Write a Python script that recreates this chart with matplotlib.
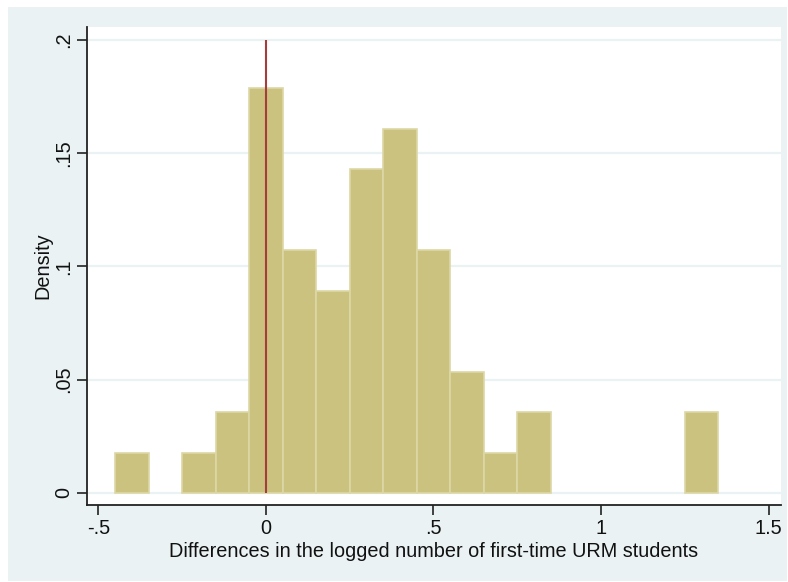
import matplotlib
matplotlib.use("Agg")
import matplotlib.pyplot as plt
from matplotlib.patches import Rectangle

plt.rcParams['font.family'] = ['Liberation Sans', 'DejaVu Sans']

# histogram bins (width .1) and number of observations in each
bin_left = [-0.45, -0.35, -0.25, -0.15, -0.05, 0.05, 0.15, 0.25, 0.35,
            0.45, 0.55, 0.65, 0.75, 0.85, 0.95, 1.05, 1.15, 1.25]
counts = [1, 0, 1, 2, 10, 6, 5, 8, 9, 6, 3, 1, 2, 0, 0, 0, 0, 2]
n_obs = sum(counts)
density = [c / n_obs for c in counts]

xticks = [-0.5, 0, 0.5, 1, 1.5]
xtick_labels = ['-.5', '0', '.5', '1', '1.5']
yticks = [0, 0.05, 0.1, 0.15, 0.2]
ytick_labels = ['0', '.05', '.1', '.15', '.2']

bg = '#EAF2F3'
bar_col = '#CAC27E'
W, H = 788, 582

fig = plt.figure(figsize=(W / 100, H / 100), dpi=100)
fig.patch.set_facecolor('white')
fig.patches.append(Rectangle((8 / W, 1 - 581 / H), 779 / W, 574 / H,
                             transform=fig.transFigure, facecolor=bg,
                             edgecolor='none', zorder=-1))

# white plot region
ax = fig.add_axes([87 / W, 1 - 505 / H, 694 / W, 478 / H])
ax.set_zorder(2)
ax.set_facecolor('white')

# empty bins get no outline
edges = ['#DDD7A6' if c > 0 else 'none' for c in counts]
ax.bar(bin_left, density, width=0.1, align='edge', color=bar_col,
       edgecolor=edges, linewidth=1.2, zorder=2)
ax.vlines(0, 0, 0.2, color='#A53D3F', linewidth=1.5, zorder=3)

for y in yticks:
    ax.axhline(y, color=bg, linewidth=1.6, zorder=1)

ax.set_xlim(-0.534, 1.537)
ax.set_ylim(-0.0053, 0.2057)

ax.set_xticks(xticks)
ax.set_xticklabels(xtick_labels)
ax.set_yticks(yticks)
ax.set_yticklabels(ytick_labels, rotation=90, va='center')

for s in ['top', 'right']:
    ax.spines[s].set_visible(False)
for s in ['left', 'bottom']:
    ax.spines[s].set_color('#222222')
    ax.spines[s].set_linewidth(1.3)

ax.tick_params(axis='both', length=7, width=1.2, color='#222222',
               labelsize=14.3, labelcolor='#111111', pad=3)

ax.set_xlabel('Differences in the logged number of first-time URM students',
              fontsize=14.3, color='#111111', labelpad=3)
ax.set_ylabel('Density', fontsize=14.3, color='#111111', labelpad=1)

fig.savefig('out.png', dpi=100, facecolor='white')
